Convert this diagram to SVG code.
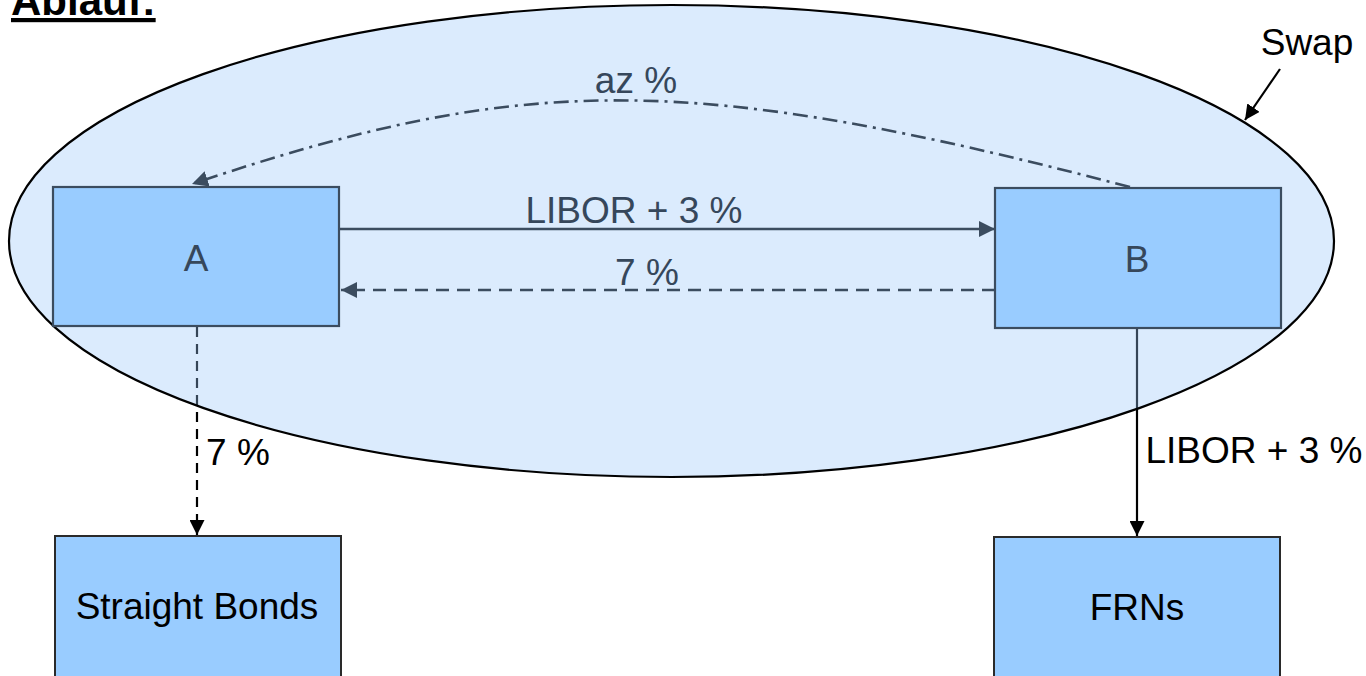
<svg xmlns="http://www.w3.org/2000/svg" width="1366" height="676" viewBox="0 0 1366 676">
<defs>
<style>
.t{font-family:"Liberation Sans",Arial,sans-serif;font-size:37px;text-anchor:middle}
.in{fill:#36475b}
.out{fill:#000}
.boxIn{fill:#99ccff;stroke:#3b4c5f;stroke-width:2.2}
.boxOut{fill:#99ccff;stroke:#2a2a2a;stroke-width:2}
.cIn{fill:none;stroke:#3b4c5f;stroke-width:2.6}
.cOut{fill:none;stroke:#000;stroke-width:2.2}
</style>
<marker id="ahIn" viewBox="0 0 16 16" refX="16" refY="8" markerWidth="16" markerHeight="16" markerUnits="userSpaceOnUse" orient="auto">
<path d="M0,0 L16,8 L0,16 z" fill="#3b4c5f"/>
</marker>
<marker id="ahOut" viewBox="0 0 16 16" refX="16" refY="8" markerWidth="15" markerHeight="15" markerUnits="userSpaceOnUse" orient="auto">
<path d="M0,0 L16,8 L0,16 z" fill="#000"/>
</marker>
</defs>
<rect width="1366" height="676" fill="#fff"/>
<g id="title">
<text x="11" y="15" font-family="'Liberation Sans',Arial,sans-serif" font-size="42" font-weight="bold" text-decoration="underline" fill="#000">Ablauf:</text>
</g>
<g id="connectors-outer">
<line class="cOut" x1="197" y1="327" x2="197" y2="535" stroke-dasharray="10 7" marker-end="url(#ahOut)"/>
<line class="cOut" x1="1137" y1="329" x2="1137" y2="536" marker-end="url(#ahOut)"/>
</g>
<g id="swap">
<ellipse cx="671.5" cy="241" rx="662.5" ry="236" fill="rgb(152,198,249)" fill-opacity="0.35" stroke="#000" stroke-width="2.2"/>
<text class="t out" x="1307" y="55">Swap</text>
<line class="cOut" x1="1280" y1="69" x2="1245" y2="120" marker-end="url(#ahOut)"/>
</g>
<g id="connectors">
<line class="cIn" x1="340" y1="229" x2="995" y2="229" marker-end="url(#ahIn)"/>
<line class="cIn" x1="995" y1="290" x2="341" y2="290" stroke-dasharray="13 8" marker-end="url(#ahIn)"/>
<path class="cIn" d="M1130,187 C690,72 525,72 192,184" stroke-dasharray="15 6 3 6" marker-end="url(#ahIn)"/>
<text class="t in" x="634" y="223">LIBOR + 3 %</text>
<text class="t in" x="647" y="285">7 %</text>
<text class="t in" x="636" y="93">az %</text>
<text class="t out" x="238" y="465">7 %</text>
<text class="t out" x="1254" y="463">LIBOR + 3 %</text>
</g>
<g id="nodeA">
<rect class="boxIn" x="53" y="187" width="286" height="139"/>
<text class="t in" x="196" y="271">A</text>
</g>
<g id="nodeB">
<rect class="boxIn" x="995" y="188" width="286" height="140"/>
<text class="t in" x="1137" y="272">B</text>
</g>
<g id="nodeStraightBonds">
<rect class="boxOut" x="55" y="536" width="286" height="150"/>
<text class="t out" x="197" y="619">Straight Bonds</text>
</g>
<g id="nodeFRNs">
<rect class="boxOut" x="994" y="537" width="286" height="150"/>
<text class="t out" x="1137" y="620">FRNs</text>
</g>
</svg>
